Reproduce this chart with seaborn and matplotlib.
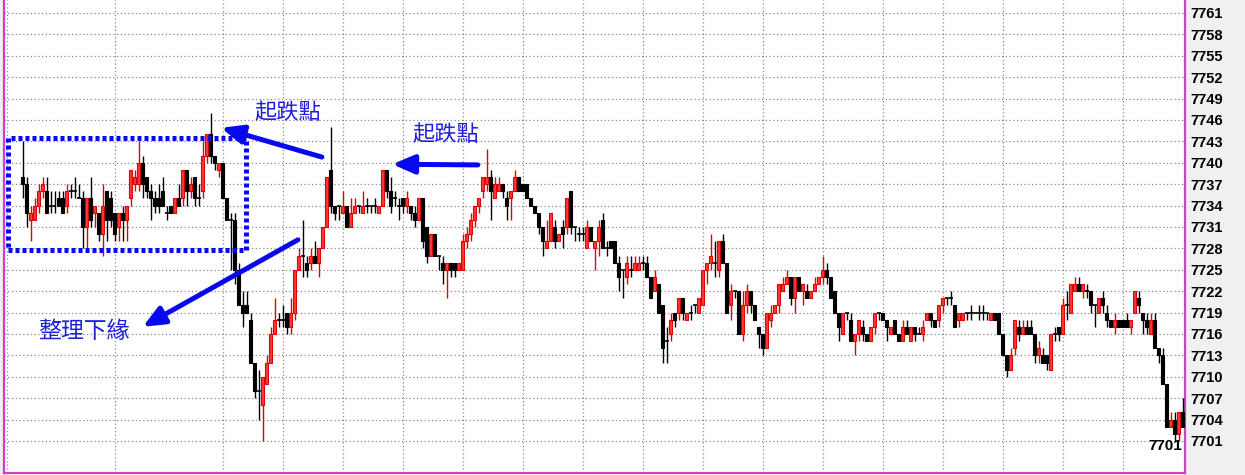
import numpy as np
import matplotlib
matplotlib.use("Agg")
import matplotlib.pyplot as plt
import seaborn as sns
from matplotlib.patches import Rectangle

# ==================================================
#* Estilo
# ==================================================
sns.set_theme(style="white")
plt.rcParams['font.family'] = ['Noto Sans CJK TC', 'DejaVu Sans']

# ==================================================
#* Dados (K線)
# ==================================================
opens = [
    7738, 7737, 7732, 7732, 7734, 7736, 7736, 7734, 7734, 7735, 7735, 7734, 7736, 7736, 7735,
    7735, 7731, 7735, 7733, 7733, 7730, 7736, 7735, 7733, 7731, 7733, 7732, 7735, 7737, 7737,
    7740, 7738, 7736, 7735, 7735, 7736, 7733, 7734, 7733, 7735, 7735, 7739, 7736, 7738, 7735,
    7736, 7741, 7744, 7741, 7739, 7740, 7735, 7732, 7732, 7725, 7720, 7720, 7718, 7712, 7708,
    7706, 7709, 7712, 7716, 7718, 7718, 7719, 7717, 7719, 7725, 7727, 7726, 7726, 7727, 7726,
    7728, 7731, 7739, 7734, 7734, 7733, 7734, 7731, 7733, 7734, 7733, 7734, 7734, 7734, 7733,
    7734, 7739, 7736, 7735, 7734, 7735, 7734, 7734, 7733, 7732, 7735, 7731, 7727, 7730, 7727,
    7726, 7725, 7726, 7726, 7725, 7725, 7729, 7730, 7732, 7734, 7736, 7737, 7738, 7735, 7736,
    7737, 7735, 7735, 7736, 7738, 7737, 7737, 7735, 7734, 7733, 7731, 7728, 7729, 7731, 7729,
    7731, 7731, 7736, 7731, 7730, 7730, 7728, 7731, 7728, 7729, 7732, 7728, 7729, 7729, 7726,
    7725, 7724, 7725, 7725, 7725, 7726, 7726, 7724, 7722, 7723, 7720, 7715, 7716, 7719, 7719,
    7721, 7718, 7719, 7720, 7719, 7720, 7725, 7726, 7726, 7725, 7729, 7726, 7720, 7722, 7722,
    7716, 7720, 7722, 7720, 7717, 7716, 7714, 7718, 7719, 7720, 7722, 7723, 7724, 7721, 7724,
    7722, 7722, 7721, 7722, 7723, 7724, 7725, 7724, 7722, 7719, 7716, 7719, 7718, 7715, 7716,
    7717, 7716, 7715, 7717, 7719, 7719, 7718, 7716, 7718, 7716, 7715, 7717, 7715, 7717, 7716,
    7716, 7718, 7719, 7718, 7718, 7720, 7721, 7721, 7720, 7718, 7718, 7719, 7719, 7719, 7719,
    7719, 7719, 7718, 7719, 7719, 7716, 7713, 7711, 7714, 7717, 7716, 7717, 7717, 7716, 7713,
    7713, 7713, 7711, 7716, 7717, 7716, 7720, 7719, 7722, 7723, 7722, 7722, 7722, 7720, 7719,
    7721, 7719, 7718, 7717, 7718, 7718, 7718, 7717, 7719, 7721, 7719, 7718, 7716, 7718, 7714,
    7713, 7709, 7703, 7704, 7702, 7705,
]
highs = [
    7743, 7738, 7734, 7735, 7737, 7738, 7738, 7736, 7736, 7736, 7736, 7737, 7737, 7738, 7737,
    7736, 7735, 7738, 7734, 7733, 7737, 7736, 7736, 7733, 7733, 7734, 7734, 7739, 7739, 7743,
    7741, 7738, 7737, 7736, 7737, 7738, 7734, 7734, 7735, 7737, 7739, 7739, 7738, 7738, 7737,
    7743, 7744, 7747, 7741, 7740, 7740, 7735, 7733, 7733, 7726, 7722, 7722, 7719, 7712, 7711,
    7710, 7713, 7717, 7721, 7719, 7720, 7719, 7721, 7725, 7728, 7732, 7727, 7728, 7729, 7728,
    7731, 7738, 7745, 7734, 7734, 7736, 7734, 7735, 7735, 7734, 7736, 7735, 7734, 7735, 7734,
    7739, 7739, 7738, 7736, 7735, 7735, 7736, 7734, 7734, 7735, 7735, 7731, 7730, 7730, 7727,
    7727, 7726, 7726, 7726, 7726, 7730, 7731, 7733, 7734, 7735, 7738, 7742, 7739, 7738, 7738,
    7737, 7736, 7736, 7739, 7738, 7737, 7737, 7735, 7734, 7733, 7731, 7732, 7733, 7732, 7730,
    7732, 7735, 7736, 7731, 7731, 7731, 7732, 7731, 7729, 7732, 7733, 7729, 7729, 7729, 7727,
    7725, 7727, 7727, 7727, 7727, 7727, 7727, 7724, 7725, 7723, 7720, 7717, 7719, 7719, 7721,
    7721, 7719, 7720, 7720, 7721, 7725, 7726, 7730, 7729, 7729, 7730, 7726, 7723, 7722, 7722,
    7722, 7723, 7722, 7720, 7717, 7716, 7719, 7720, 7720, 7723, 7724, 7725, 7724, 7724, 7724,
    7723, 7723, 7722, 7724, 7724, 7727, 7726, 7724, 7722, 7719, 7719, 7719, 7719, 7716, 7718,
    7718, 7716, 7717, 7719, 7719, 7719, 7718, 7717, 7718, 7716, 7718, 7718, 7717, 7717, 7717,
    7718, 7719, 7719, 7718, 7720, 7721, 7721, 7722, 7720, 7719, 7719, 7719, 7720, 7719, 7720,
    7720, 7719, 7719, 7719, 7719, 7716, 7713, 7714, 7718, 7718, 7718, 7718, 7718, 7716, 7715,
    7714, 7713, 7716, 7717, 7717, 7721, 7722, 7723, 7724, 7724, 7723, 7723, 7722, 7720, 7721,
    7722, 7720, 7718, 7719, 7718, 7718, 7719, 7718, 7722, 7722, 7719, 7719, 7719, 7719, 7714,
    7714, 7709, 7705, 7705, 7705, 7707,
]
lows = [
    7735, 7731, 7729, 7732, 7733, 7735, 7733, 7733, 7733, 7734, 7733, 7733, 7735, 7735, 7735,
    7728, 7728, 7731, 7731, 7729, 7727, 7729, 7731, 7729, 7729, 7729, 7729, 7734, 7736, 7736,
    7735, 7735, 7732, 7733, 7733, 7734, 7732, 7733, 7733, 7734, 7734, 7734, 7735, 7734, 7734,
    7735, 7740, 7740, 7739, 7738, 7735, 7732, 7725, 7723, 7720, 7717, 7719, 7712, 7707, 7704,
    7701, 7709, 7712, 7716, 7717, 7717, 7716, 7716, 7718, 7725, 7724, 7724, 7725, 7726, 7724,
    7728, 7731, 7733, 7732, 7732, 7733, 7731, 7731, 7733, 7733, 7733, 7733, 7733, 7733, 7733,
    7734, 7735, 7733, 7734, 7732, 7733, 7733, 7732, 7731, 7732, 7728, 7726, 7727, 7727, 7725,
    7723, 7721, 7724, 7724, 7725, 7725, 7728, 7729, 7731, 7733, 7735, 7736, 7732, 7735, 7736,
    7735, 7732, 7732, 7736, 7736, 7736, 7735, 7734, 7733, 7730, 7727, 7728, 7729, 7728, 7729,
    7728, 7730, 7730, 7729, 7729, 7729, 7728, 7729, 7725, 7727, 7728, 7727, 7728, 7726, 7722,
    7721, 7723, 7724, 7725, 7725, 7725, 7724, 7721, 7722, 7719, 7712, 7712, 7715, 7717, 7718,
    7718, 7718, 7718, 7719, 7719, 7720, 7723, 7725, 7724, 7724, 7726, 7719, 7718, 7721, 7716,
    7715, 7719, 7719, 7718, 7714, 7713, 7714, 7717, 7719, 7719, 7722, 7723, 7720, 7719, 7722,
    7720, 7721, 7721, 7722, 7723, 7723, 7723, 7721, 7719, 7715, 7716, 7718, 7715, 7713, 7715,
    7715, 7715, 7715, 7716, 7718, 7718, 7715, 7716, 7716, 7715, 7715, 7716, 7715, 7715, 7716,
    7715, 7718, 7717, 7717, 7717, 7719, 7720, 7720, 7717, 7717, 7718, 7718, 7718, 7719, 7718,
    7718, 7718, 7718, 7718, 7716, 7713, 7710, 7711, 7713, 7715, 7716, 7716, 7716, 7712, 7712,
    7712, 7711, 7711, 7715, 7715, 7716, 7718, 7719, 7722, 7722, 7721, 7721, 7719, 7717, 7719,
    7719, 7717, 7717, 7716, 7717, 7717, 7717, 7716, 7719, 7719, 7716, 7716, 7716, 7714, 7712,
    7709, 7703, 7703, 7701, 7701, 7703,
]
closes = [
    7737, 7733, 7733, 7734, 7736, 7737, 7733, 7734, 7734, 7734, 7733, 7736, 7736, 7736, 7735,
    7731, 7735, 7732, 7734, 7730, 7734, 7732, 7732, 7730, 7733, 7732, 7734, 7739, 7738, 7740,
    7737, 7736, 7735, 7734, 7734, 7734, 7733, 7733, 7735, 7734, 7739, 7736, 7737, 7735, 7735,
    7741, 7744, 7741, 7740, 7740, 7735, 7732, 7732, 7725, 7720, 7719, 7719, 7712, 7708, 7708,
    7710, 7712, 7716, 7718, 7718, 7718, 7717, 7719, 7725, 7727, 7727, 7725, 7727, 7726, 7728,
    7731, 7738, 7734, 7733, 7734, 7734, 7731, 7733, 7734, 7734, 7734, 7734, 7734, 7734, 7734,
    7739, 7736, 7734, 7735, 7734, 7734, 7735, 7733, 7732, 7735, 7729, 7727, 7730, 7727, 7727,
    7725, 7726, 7725, 7725, 7726, 7729, 7730, 7732, 7734, 7735, 7738, 7738, 7736, 7737, 7737,
    7736, 7734, 7736, 7738, 7736, 7736, 7735, 7734, 7733, 7731, 7729, 7729, 7733, 7729, 7730,
    7730, 7735, 7731, 7731, 7730, 7730, 7731, 7729, 7729, 7731, 7728, 7728, 7728, 7726, 7724,
    7725, 7726, 7725, 7726, 7726, 7726, 7724, 7721, 7724, 7719, 7714, 7715, 7718, 7718, 7721,
    7719, 7719, 7719, 7720, 7721, 7725, 7726, 7727, 7726, 7729, 7726, 7719, 7722, 7722, 7716,
    7720, 7722, 7720, 7718, 7716, 7714, 7719, 7719, 7720, 7723, 7723, 7724, 7721, 7724, 7722,
    7723, 7721, 7722, 7723, 7724, 7725, 7724, 7721, 7719, 7717, 7719, 7719, 7715, 7716, 7718,
    7716, 7715, 7717, 7719, 7719, 7718, 7717, 7717, 7716, 7715, 7717, 7716, 7717, 7716, 7716,
    7717, 7719, 7718, 7717, 7720, 7721, 7721, 7721, 7717, 7719, 7719, 7719, 7719, 7719, 7719,
    7719, 7719, 7719, 7718, 7716, 7713, 7711, 7713, 7718, 7716, 7717, 7716, 7716, 7713, 7714,
    7712, 7712, 7716, 7716, 7716, 7720, 7720, 7723, 7723, 7722, 7723, 7722, 7720, 7720, 7721,
    7720, 7718, 7717, 7718, 7717, 7717, 7717, 7718, 7722, 7720, 7718, 7717, 7718, 7714, 7713,
    7709, 7703, 7704, 7702, 7705, 7703,
]

precos_eixo = list(range(7701, 7762, 3))
linhas_tempo = [-4, 23] + list(range(50, 290, 15))
ultimo_preco = "7701"

# ==================================================
#* Cores
# ==================================================
VERMELHO = "#e00000"
VERMELHO_CORPO = "#f03c3c"
AZUL = "#0808f0"
AZUL_TEXTO = "#2020d8"
MAGENTA = "#cc3fcc"
GRADE = "#8a8a8a"

# ==================================================
#* Figura
# ==================================================
fig = plt.figure(figsize=(12.45, 4.75), dpi=100)
fig.patch.set_facecolor("#f0f0f0")
ax = fig.add_axes([4 / 1245, 2 / 475, 1181 / 1245, 473 / 475])
ax.set_facecolor("white")

o = np.array(opens)
h = np.array(highs)
l = np.array(lows)
c = np.array(closes)
x = np.arange(len(o))

sobe = c > o
desce = c < o
plano = c == o

# sombras
ax.vlines(x[sobe], l[sobe], h[sobe], color=VERMELHO, lw=1, zorder=3)
ax.vlines(x[~sobe], l[~sobe], h[~sobe], color="black", lw=1, zorder=3)

# corpos
ax.bar(x[sobe], c[sobe] - o[sobe], bottom=o[sobe], width=0.7,
       color=VERMELHO_CORPO, edgecolor=VERMELHO, lw=0.8, zorder=4)
ax.bar(x[desce], o[desce] - c[desce], bottom=c[desce], width=0.7,
       color="black", edgecolor="black", lw=0.8, zorder=4)
ax.hlines(o[plano], x[plano] - 0.45, x[plano] + 0.45, color="black", lw=1.2, zorder=4)

# ==================================================
#* Eixos e grade
# ==================================================
ax.set_xlim(-4.675, 290.575)
ax.set_ylim(7696.51, 7762.82)
ax.set_xticks(linhas_tempo)
ax.set_xticklabels([])
ax.set_yticks(precos_eixo)
ax.yaxis.tick_right()
ax.tick_params(axis="both", length=0)
ax.tick_params(axis="y", pad=4)
for lab in ax.get_yticklabels():
    lab.set_family("Liberation Sans")
    lab.set_weight("bold")
    lab.set_fontsize(10.5)
    lab.set_color("black")
ax.grid(True, color=GRADE, ls=(0, (1, 2)), lw=0.9)
ax.set_axisbelow(True)

sns.despine(ax=ax, top=True, right=False, left=False, bottom=False)
for lado in ["left", "right", "bottom"]:
    ax.spines[lado].set_color(MAGENTA)
    ax.spines[lado].set_linewidth(1.6)

ax.text(289.9, 7700.3, ultimo_preco, ha="right", va="center",
        family="Liberation Sans", weight="bold", fontsize=11, color="black", zorder=6)

# ==================================================
#* Anotações
# ==================================================
caixa = Rectangle((-3.7, 7727.8), 59.5, 15.7, fill=False, edgecolor=AZUL,
                  lw=3.6, ls=(0, (0.8, 0.6)), zorder=5)
ax.add_patch(caixa)

seta = dict(arrowstyle="-|>,head_length=0.65,head_width=0.28", color=AZUL,
            lw=3.6, mutation_scale=20, shrinkA=0, shrinkB=0)
ax.annotate("", xy=(49.6, 7744.9), xytext=(74.8, 7740.8), arrowprops=seta, zorder=6)
ax.annotate("", xy=(92.4, 7739.8), xytext=(113.8, 7739.7), arrowprops=seta, zorder=6)
ax.annotate("", xy=(30.0, 7717.0), xytext=(68.8, 7729.2), arrowprops=seta, zorder=6)

ax.text(66.3, 7747.0, "起跌點", ha="center", va="center", fontsize=16, color=AZUL_TEXTO, zorder=6)
ax.text(105.8, 7744.0, "起跌點", ha="center", va="center", fontsize=16, color=AZUL_TEXTO, zorder=6)
ax.text(15.3, 7716.3, "整理下緣", ha="center", va="center", fontsize=16.5, color=AZUL_TEXTO, zorder=6)

fig.savefig("out.png", dpi=100, facecolor=fig.get_facecolor())
